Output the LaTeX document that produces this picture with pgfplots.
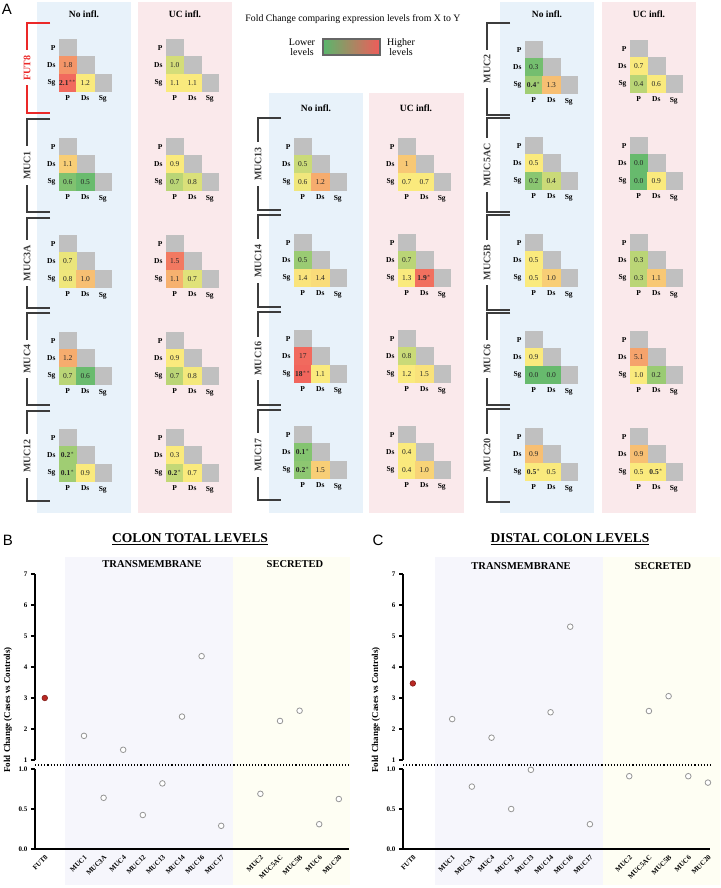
\documentclass[border=0pt]{standalone}
\usepackage{pgfplots}
\pgfplotsset{compat=1.18}
\usepackage{fontspec}
\setmainfont{Liberation Serif}
\newfontfamily\sansfont{Liberation Sans}

\definecolor{hmgray}{RGB}{192,192,192}
\definecolor{bluebg}{RGB}{232,242,250}
\definecolor{pinkbg}{RGB}{250,233,235}
\definecolor{tmbg}{RGB}{246,246,252}
\definecolor{secbg}{RGB}{254,254,243}
\definecolor{brk}{RGB}{60,60,60}
\definecolor{futred}{RGB}{235,40,40}
\definecolor{cgreen}{RGB}{90,182,108}
\definecolor{cyellow}{RGB}{250,234,125}
\definecolor{cred}{RGB}{240,92,90}
\definecolor{ptgray}{RGB}{150,150,150}
\definecolor{ptred}{RGB}{185,40,35}

\newcommand\fs[1]{\fontsize{#1}{#1}\selectfont}

\pgfplotsset{
  colormap={hm}{rgb255=(90,182,108) rgb255=(250,234,125) rgb255=(240,92,90)},
  hmaxis/.style={anchor=north west, scale only axis, width=52.5pt, height=52.5pt,
    xmin=-0.5, xmax=2.5, ymin=-0.5, ymax=2.5, y dir=reverse,
    xtick={0,1,2}, ytick={0,1,2}, xticklabels={P,Ds,Sg}, yticklabels={P,Ds,Sg},
    axis line style={draw=none}, major tick length=0pt,
    ticklabel style={font=\bfseries\fs{7.5}},
    xticklabel style={yshift=-1pt},
    colormap name=hm, point meta min=0, point meta max=1, clip=false},
  fcaxis/.style={scale only axis, width=313.6pt, xmin=-0.5, xmax=15.5,
    axis line style={line width=1.4pt, -}, tick align=outside,
    ytick style={line width=1.4pt, black}, major tick length=4pt,
    ticklabel style={font=\bfseries\fs{7}},
    /pgf/number format/assume math mode=true, clip=false},
  opn/.style={only marks, mark=*, mark size=2.8pt,
    mark options={draw=ptgray, fill=white, line width=0.8pt}},
  fil/.style={only marks, mark=*, mark size=2.8pt,
    mark options={draw=ptred!70!black, fill=ptred, line width=0.6pt}},
}

% heatmap: x, y of the top-left corner (px), rows of x y colour label stars
\newcommand\hm[3]{%
  \begin{axis}[hmaxis, at={(#1pt,-#2pt)}]
    \addplot[only marks, mark=square*, mark size=8.75pt,
      mark options={draw=hmgray, fill=hmgray, line width=0.1pt}]
      coordinates {(0,0) (1,1) (2,2)};
    \addplot[scatter, only marks, mark=square*, mark size=8.75pt,
      mark options={line width=0.1pt},
      scatter/use mapped color={draw=mapped color, fill=mapped color},
      point meta=explicit,
      visualization depends on={value \thisrow{t}\as\lab},
      visualization depends on={value \thisrow{s}\as\starn},
      nodes near coords*={\ifcase\starn\relax\lab\or\textbf{\lab}$^{*}$\or\textbf{\lab}$^{**}$\fi},
      nodes near coords align={center},
      every node near coord/.append style={font=\fs{7.5}, text=black!85, inner sep=0pt}]
      table[x=x, y=y, meta=c, row sep=\\] {x y c t s\\ #3};
  \end{axis}}

% bracket: x of vertical, top, bottom, label, colour
\newcommand\brk[5]{%
  \draw[#5, line width=1.4pt] (#1pt+23pt,-#2pt) -- (#1pt,-#2pt) -- (#1pt,-#3pt) -- (#1pt+23pt,-#3pt);
  \node[fill=white, rotate=90, text=#5, font=\bfseries\fs{10}, inner xsep=5pt, inner ysep=1pt]
    at (#1pt,{-(#2+#3)/2*1pt}) {#4};}

\begin{document}
\begin{tikzpicture}
\path[use as bounding box] (0,0) rectangle (720pt,-888pt);

% ---------- panel A backgrounds ----------
\fill[bluebg] (37pt,-2pt) rectangle (131pt,-513pt);
\fill[pinkbg] (138pt,-2pt) rectangle (232pt,-513pt);
\fill[bluebg] (269pt,-93pt) rectangle (363pt,-513pt);
\fill[pinkbg] (369pt,-93pt) rectangle (464pt,-513pt);
\fill[bluebg] (500pt,-2pt) rectangle (594pt,-513pt);
\fill[pinkbg] (602pt,-2pt) rectangle (696pt,-513pt);

\node[font=\sansfont\fs{15}] at (7pt,-9pt) {A};
\foreach \x/\y/\t in {84/14/No infl., 185/14/UC infl., 316/108/No infl., 416/108/UC infl., 547/14/No infl., 649/14/UC infl.}
  \node[font=\bfseries\fs{9.5}] at (\x pt,-\y pt) {\t};

% legend
\node[font=\fs{9.8}] at (353pt,-19pt) {Fold Change comparing expression levels from X to Y};
\shade[left color=cgreen, middle color=cyellow, right color=cred] (323pt,-39pt) rectangle (380pt,-55pt);
\draw[line width=1.2pt, black!60] (323pt,-39pt) rectangle (380pt,-55pt);
\node[font=\fs{10}, align=center] at (302pt,-47.5pt) {Lower\\levels};
\node[font=\fs{10}, align=center] at (401pt,-47.5pt) {Higher\\levels};

% brackets
\brk{27}{23}{113}{FUT8}{futred}
\brk{27}{119}{212}{MUC1}{brk}
\brk{27}{218}{308}{MUC3A}{brk}
\brk{27}{313}{405}{MUC4}{brk}
\brk{27}{411}{501}{MUC12}{brk}
\brk{258}{118}{210}{MUC13}{brk}
\brk{258}{215}{307}{MUC14}{brk}
\brk{258}{312}{405}{MUC16}{brk}
\brk{258}{410}{500}{MUC17}{brk}
\brk{487}{23}{115}{MUC2}{brk}
\brk{487}{118}{212}{MUC5AC}{brk}
\brk{487}{215}{310}{MUC5B}{brk}
\brk{487}{313}{405}{MUC6}{brk}
\brk{487}{409}{502}{MUC20}{brk}

% ---------- heatmaps, group 1 ----------
\hm{59}{39}{0 1 0.80 1.8 0\\ 0 2 0.95 2.1 2\\ 1 2 0.50 1.2 0\\}
\hm{59}{138}{0 1 0.60 1.1 0\\ 0 2 0.12 0.6 0\\ 1 2 0.05 0.5 0\\}
\hm{59}{235}{0 1 0.45 0.7 0\\ 0 2 0.47 0.8 0\\ 1 2 0.65 1.0 0\\}
\hm{59}{332}{0 1 0.72 1.2 0\\ 0 2 0.30 0.7 0\\ 1 2 0.05 0.6 0\\}
\hm{59}{429}{0 1 0.22 0.2 1\\ 0 2 0.22 0.1 1\\ 1 2 0.50 0.9 0\\}
\hm{166}{39}{0 1 0.38 1.0 0\\ 0 2 0.50 1.1 0\\ 1 2 0.50 1.1 0\\}
\hm{166}{138}{0 1 0.50 0.9 0\\ 0 2 0.30 0.7 0\\ 1 2 0.40 0.8 0\\}
\hm{166}{235}{0 1 0.90 1.5 0\\ 0 2 0.70 1.1 0\\ 1 2 0.42 0.7 0\\}
\hm{166}{332}{0 1 0.50 0.9 0\\ 0 2 0.30 0.7 0\\ 1 2 0.48 0.8 0\\}
\hm{166}{429}{0 1 0.50 0.3 0\\ 0 2 0.33 0.2 1\\ 1 2 0.50 0.7 0\\}
% ---------- group 2 ----------
\hm{294}{138}{0 1 0.35 0.5 0\\ 0 2 0.47 0.6 0\\ 1 2 0.72 1.2 0\\}
\hm{294}{234}{0 1 0.20 0.5 0\\ 0 2 0.52 1.4 0\\ 1 2 0.55 1.4 0\\}
\hm{294}{330}{0 1 0.95 17 0\\ 0 2 0.97 18 2\\ 1 2 0.50 1.1 0\\}
\hm{294}{426}{0 1 0.13 0.1 1\\ 0 2 0.16 0.2 1\\ 1 2 0.60 1.5 0\\}
\hm{398}{138}{0 1 0.62 1 0\\ 0 2 0.50 0.7 0\\ 1 2 0.50 0.7 0\\}
\hm{398}{234}{0 1 0.30 0.7 0\\ 0 2 0.50 1.3 0\\ 1 2 0.93 1.9 1\\}
\hm{398}{330}{0 1 0.35 0.8 0\\ 0 2 0.50 1.2 0\\ 1 2 0.53 1.5 0\\}
\hm{398}{426}{0 1 0.50 0.4 0\\ 0 2 0.50 0.4 0\\ 1 2 0.58 1.0 0\\}
% ---------- group 3 ----------
\hm{525}{41}{0 1 0.08 0.3 0\\ 0 2 0.22 0.4 1\\ 1 2 0.65 1.3 0\\}
\hm{525}{137}{0 1 0.50 0.5 0\\ 0 2 0.15 0.2 0\\ 1 2 0.35 0.4 0\\}
\hm{525}{234}{0 1 0.50 0.5 0\\ 0 2 0.50 0.5 0\\ 1 2 0.60 1.0 0\\}
\hm{525}{331}{0 1 0.50 0.9 0\\ 0 2 0.04 0.0 0\\ 1 2 0.04 0.0 0\\}
\hm{525}{428}{0 1 0.65 0.9 0\\ 0 2 0.50 0.5 1\\ 1 2 0.50 0.5 0\\}
\hm{630}{40}{0 1 0.50 0.7 0\\ 0 2 0.30 0.4 0\\ 1 2 0.50 0.6 0\\}
\hm{630}{137}{0 1 0.04 0.0 0\\ 0 2 0.04 0.0 0\\ 1 2 0.50 0.9 0\\}
\hm{630}{234}{0 1 0.30 0.3 0\\ 0 2 0.30 0.3 0\\ 1 2 0.62 1.1 0\\}
\hm{630}{331}{0 1 0.75 5.1 0\\ 0 2 0.50 1.0 0\\ 1 2 0.20 0.2 0\\}
\hm{630}{428}{0 1 0.65 0.9 0\\ 0 2 0.50 0.5 0\\ 1 2 0.50 0.5 1\\}

% ---------- panels B and C backgrounds ----------
\fill[tmbg] (65pt,-557pt) rectangle (233pt,-885pt);
\fill[secbg] (233pt,-557pt) rectangle (350pt,-885pt);
\fill[tmbg] (435pt,-557pt) rectangle (603pt,-885pt);
\fill[secbg] (603pt,-557pt) rectangle (720pt,-885pt);

\node[font=\sansfont\fs{15}] at (8pt,-540pt) {B};
\node[font=\sansfont\fs{15}] at (378pt,-540pt) {C};
\node[font=\bfseries\fs{13.5}] at (190pt,-539pt) {\underline{COLON TOTAL LEVELS}};
\node[font=\bfseries\fs{13.5}] at (570pt,-539pt) {\underline{DISTAL COLON LEVELS}};
\node[font=\bfseries\fs{10.5}] at (152pt,-564pt) {TRANSMEMBRANE};
\node[font=\bfseries\fs{10.5}] at (295pt,-564pt) {SECRETED};
\node[font=\bfseries\fs{10.5}] at (521pt,-566pt) {TRANSMEMBRANE};
\node[font=\bfseries\fs{10.5}] at (663pt,-566pt) {SECRETED};
\node[font=\bfseries\fs{9}, rotate=90] at (8pt,-710pt) {Fold Change (Cases vs Controls)};
\node[font=\bfseries\fs{9}, rotate=90] at (376pt,-710pt) {Fold Change (Cases vs Controls)};

% ---------- panel B ----------
\begin{axis}[fcaxis, at={(35pt,-574pt)}, anchor=north west, height=186pt,
  ymin=1, ymax=7, ytick={1,2,...,7}, axis x line=none, axis y line*=left]
  \addplot[fil] coordinates {(0,3.0)};
  \addplot[opn] coordinates {(2,1.78) (4,1.33) (7,2.40) (8,4.35) (12,2.26) (13,2.59)};
\end{axis}
\begin{axis}[fcaxis, at={(35pt,-849pt)}, anchor=south west, height=80pt,
  ymin=0, ymax=1, ytick={0,0.5,1},
  yticklabel style={/pgf/number format/fixed, /pgf/number format/fixed zerofill, /pgf/number format/precision=1},
  axis x line*=bottom, axis y line*=left,
  xtick={0,2,3,4,5,6,7,8,9,11,12,13,14,15},
  xticklabels={FUT8,MUC1,MUC3A,MUC4,MUC12,MUC13,MUC14,MUC16,MUC17,MUC2,MUC5AC,MUC5B,MUC6,MUC20},
  xticklabel style={rotate=45, anchor=north east, inner sep=1pt}, xtick style={draw=none}]
  \addplot[opn] coordinates {(3,0.64) (5,0.425) (6,0.82) (9,0.29) (11,0.69) (14,0.31) (15,0.625)};
\end{axis}
\draw[dotted, line width=1.1pt] (35pt,-765pt) -- (349pt,-765pt);

% ---------- panel C ----------
\begin{axis}[fcaxis, at={(403pt,-574pt)}, anchor=north west, height=186pt, width=306.9pt, xmax=15.1,
  ymin=1, ymax=7, ytick={1,2,...,7}, axis x line=none, axis y line*=left]
  \addplot[fil] coordinates {(0,3.47)};
  \addplot[opn] coordinates {(2,2.32) (4,1.72) (7,2.54) (8,5.30) (12,2.58) (13,3.06)};
\end{axis}
\begin{axis}[fcaxis, at={(403pt,-849pt)}, anchor=south west, height=80pt, width=306.9pt, xmax=15.1,
  ymin=0, ymax=1, ytick={0,0.5,1},
  yticklabel style={/pgf/number format/fixed, /pgf/number format/fixed zerofill, /pgf/number format/precision=1},
  axis x line*=bottom, axis y line*=left,
  xtick={0,2,3,4,5,6,7,8,9,11,12,13,14,15},
  xticklabels={FUT8,MUC1,MUC3A,MUC4,MUC12,MUC13,MUC14,MUC16,MUC17,MUC2,MUC5AC,MUC5B,MUC6,MUC20},
  xticklabel style={rotate=45, anchor=north east, inner sep=1pt}, xtick style={draw=none}]
  \addplot[opn] coordinates {(3,0.78) (5,0.50) (6,0.99) (9,0.31) (11,0.91) (14,0.91) (15,0.83)};
\end{axis}
\draw[dotted, line width=1.1pt] (403pt,-765pt) -- (710pt,-765pt);
\end{tikzpicture}
\end{document}
